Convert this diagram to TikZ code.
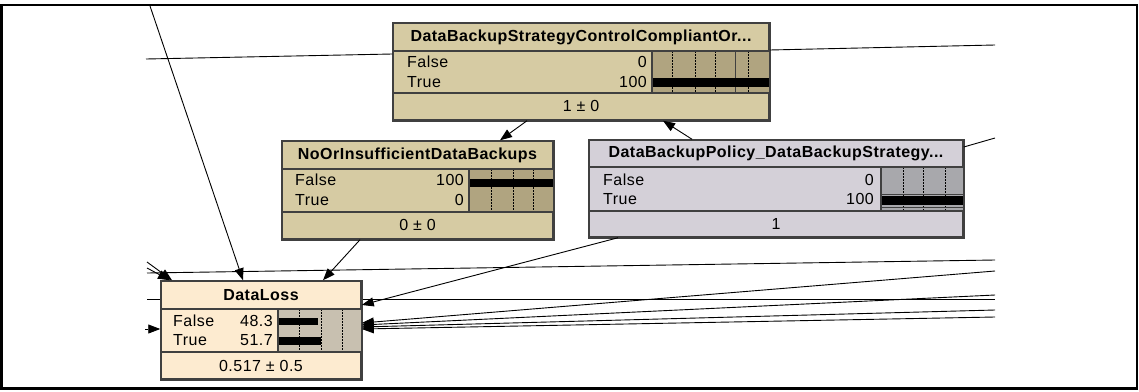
\documentclass[tikz,border=0pt]{standalone}
\usepackage{fontspec}
\setmainfont{Liberation Sans}
\usetikzlibrary{arrows.meta}

\definecolor{tanbox}{HTML}{D6CBA3}
\definecolor{tanbar}{HTML}{B0A480}
\definecolor{greybox}{HTML}{D4D0D8}
\definecolor{greybar}{HTML}{A8A8AC}
\definecolor{peachbox}{HTML}{FDEBD0}
\definecolor{peachbar}{HTML}{C8C0B0}
\definecolor{edgegrey}{HTML}{404040}

\tikzset{
  netbox/.style={draw=edgegrey, line width=1.5pt, inner sep=0pt, rectangle},
  nettitle/.style={inner sep=0pt, font=\fontsize{16}{18}\selectfont\bfseries\addfontfeatures{LetterSpace=3}},
  netstate/.style={inner sep=0pt, font=\fontsize{16}{18}\selectfont\addfontfeatures{LetterSpace=3}},
  link/.style={black, line width=0.9pt},
  arc/.style={link, -{Triangle[length=12pt,width=9pt]}},
  tick/.style={black, line width=0.8pt, dash pattern=on 1.5pt off 1.5pt},
  sep/.style={edgegrey, line width=1.5pt}
}

\begin{document}
\begin{tikzpicture}[x=1pt,y=-1pt]

\useasboundingbox (0,0) rectangle (1139,391);
\draw [line width=2.5pt] (1.25,5) rectangle (1137,388.5);

\coordinate (topA) at (150,6);
\coordinate (leftA) at (146,59);
\coordinate (rightA) at (995,45);
\coordinate (rightB) at (995,138);
\coordinate (farL1) at (147,273);
\coordinate (farL2) at (147,262);
\coordinate (farL3) at (147,268);
\coordinate (farL4) at (145,329);
\coordinate (farL5) at (147,299);
\coordinate (farR1) at (995,260);
\coordinate (farR2) at (995,271);
\coordinate (farR3) at (995,295);
\coordinate (farR4) at (995,299);
\coordinate (farR5) at (995,310);
\coordinate (farR6) at (995,317);

\draw [link] (farR1)--(farL1);
\draw [link] (farL5)--(farR4);

\node [netbox, fill=tanbox, minimum width=376pt, minimum height=97pt] (strat) at (581,71.5) {};
\node [netbox, fill=tanbox, minimum width=271pt, minimum height=98pt] (insuff) at (417.5,190) {};
\node [netbox, fill=greybox, minimum width=374pt, minimum height=97pt] (policy) at (776,188.5) {};
\node [netbox, fill=peachbox, minimum width=200pt, minimum height=98pt] (loss) at (261,330) {};

% strategy node
\fill [tanbar] (652,51) rectangle (769,93);
\foreach \x in {672,695,715,748} \draw [tick] (\x,51)--(\x,93);
\draw [edgegrey, line width=1pt] (735,51)--(735,93);
\fill [black] (652,78) rectangle (769,87);
\draw [sep] (393,51)--(769,51);
\draw [sep] (393,93)--(769,93);
\draw [sep] (652,51)--(652,93);
\draw [netbox] (strat.north west) rectangle (strat.south east);
\node [nettitle] (stratT) at (581,37) {DataBackupStrategyControlCompliantOr...};
\node [netstate, anchor=west] (stratF) at (407,62) {False};
\node [netstate, anchor=west] (stratR) at (407,82) {True};
\node [netstate, anchor=east] (stratFv) at (647,62) {0};
\node [netstate, anchor=east] (stratRv) at (647,82) {100};
\node [netstate] (stratM) at (581,106) {1 ± 0};

% insufficient backups node
\fill [tanbar] (469,169) rectangle (553,212);
\foreach \x in {491,513,533} \draw [tick] (\x,169)--(\x,212);
\fill [black] (469,179) rectangle (553,187);
\draw [sep] (282,169)--(553,169);
\draw [sep] (282,212)--(553,212);
\draw [sep] (469,169)--(469,212);
\draw [netbox] (insuff.north west) rectangle (insuff.south east);
\node [nettitle] (insuffT) at (417.5,155) {NoOrInsufficientDataBackups};
\node [netstate, anchor=west] (insuffF) at (295,180) {False};
\node [netstate, anchor=west] (insuffR) at (295,200) {True};
\node [netstate, anchor=east] (insuffFv) at (464,180) {100};
\node [netstate, anchor=east] (insuffRv) at (464,200) {0};
\node [netstate] (insuffM) at (417.5,225) {0 ± 0};

% policy node
\fill [greybar] (881,167) rectangle (963,211);
\foreach \x in {903,923,945} \draw [tick] (\x,167)--(\x,211);
\draw [edgegrey, line width=0.8pt] (881,194)--(963,194);
\draw [edgegrey, line width=0.8pt] (881,207)--(963,207);
\fill [black] (881,196) rectangle (963,205);
\draw [sep] (589,167)--(963,167);
\draw [sep] (589,211)--(963,211);
\draw [sep] (881,167)--(881,211);
\draw [netbox] (policy.north west) rectangle (policy.south east);
\node [nettitle] (policyT) at (776,153) {DataBackupPolicy\_DataBackupStrategy...};
\node [netstate, anchor=west] (policyF) at (603,180) {False};
\node [netstate, anchor=west] (policyR) at (603,199) {True};
\node [netstate, anchor=east] (policyFv) at (874,180) {0};
\node [netstate, anchor=east] (policyRv) at (874,199) {100};
\node [netstate] (policyM) at (776,224) {1};

% data loss node
\fill [peachbar] (278,309) rectangle (361,352);
\foreach \x in {299,321,342} \draw [tick] (\x,309)--(\x,352);
\fill [black] (278,318) rectangle (318,325);
\fill [black] (278,337) rectangle (321,345);
\draw [sep] (161,309)--(361,309);
\draw [sep] (161,352)--(361,352);
\draw [sep] (278,309)--(278,352);
\draw [netbox] (loss.north west) rectangle (loss.south east);
\node [nettitle] (lossT) at (261,295) {DataLoss};
\node [netstate, anchor=west] (lossF) at (173,321) {False};
\node [netstate, anchor=west] (lossR) at (173,340) {True};
\node [netstate, anchor=east] (lossFv) at (273,321) {48.3};
\node [netstate, anchor=east] (lossRv) at (273,340) {51.7};
\node [netstate] (lossM) at (261,366) {0.517 ± 0.5};

\draw [link] ([yshift=17.5pt]strat.west)--(leftA);
\draw [link] ([yshift=21.5pt]strat.east)--(rightA);
\draw [link] ([yshift=41.5pt]policy.east)--(rightB);

\draw [arc] ([xshift=-54pt]strat.south)--([xshift=82.5pt]insuff.north);
\draw [arc] ([xshift=-84pt]policy.north)--([xshift=82pt]strat.south);
\draw [arc] ([xshift=-57.5pt]insuff.south)--([xshift=62pt]loss.north);
\draw [arc] ([xshift=-158pt]policy.south)--([yshift=25pt]loss.east);
\draw [arc] (topA)--([xshift=-18pt]loss.north);
\draw [arc] (farL2)--([xshift=-89pt]loss.north);
\draw [arc] (farL3)--([xshift=-91pt]loss.north);
\draw [arc] (farL4)--([yshift=1pt]loss.west);
\draw [arc] (farR2)--([yshift=7pt]loss.east);
\draw [arc] (farR3)--([yshift=5pt]loss.east);
\draw [arc] (farR5)--([yshift=3pt]loss.east);
\draw [arc] (farR6)--([yshift=1pt]loss.east);

\end{tikzpicture}
\end{document}
